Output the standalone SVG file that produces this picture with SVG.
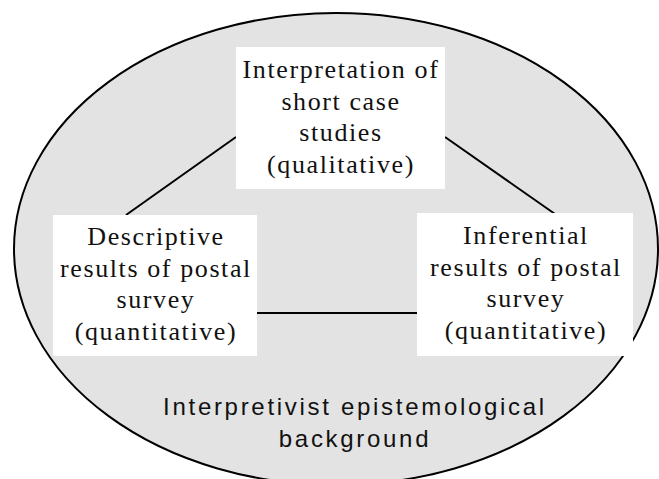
<svg xmlns="http://www.w3.org/2000/svg" width="659" height="479" viewBox="0 0 659 479">
  <style>
    .bg { fill: #e3e3e3; stroke: #000; stroke-width: 2; }
    .box { fill: #fff; stroke: none; }
    .lbl { font-family: "Liberation Serif", "Times New Roman", serif; font-size: 26px; letter-spacing: 1.6px; fill: #111; text-anchor: middle; }
    .cap { font-family: "Liberation Sans", Arial, sans-serif; font-size: 24px; letter-spacing: 2.7px; fill: #111; text-anchor: middle; }
    .edge { stroke: #000; stroke-width: 2; fill: none; }
  </style>

  <!-- background region -->
  <g id="background">
    <ellipse class="bg" cx="336" cy="249" rx="322" ry="236"/>
    <text class="cap" x="355" y="415">Interpretivist epistemological</text>
    <text class="cap" x="355" y="447">background</text>
  </g>

  <!-- connectors -->
  <g id="connectors">
    <line class="edge" x1="236" y1="137" x2="126" y2="215"/>
    <line class="edge" x1="445" y1="137" x2="555" y2="214"/>
    <line class="edge" x1="257" y1="313" x2="417" y2="313"/>
  </g>

  <!-- nodes -->
  <g id="case-studies">
    <rect class="box" x="236" y="47" width="209" height="142"/>
    <text class="lbl" x="341" y="78">Interpretation of</text>
    <text class="lbl" x="341" y="110">short case</text>
    <text class="lbl" x="341" y="141">studies</text>
    <text class="lbl" x="341" y="173">(qualitative)</text>
  </g>

  <g id="descriptive">
    <rect class="box" x="53" y="215" width="204" height="141"/>
    <text class="lbl" x="156" y="245">Descriptive</text>
    <text class="lbl" x="156" y="277">results of postal</text>
    <text class="lbl" x="156" y="308">survey</text>
    <text class="lbl" x="156" y="340">(quantitative)</text>
  </g>

  <g id="inferential">
    <rect class="box" x="417" y="213" width="216" height="143"/>
    <text class="lbl" x="526" y="244">Inferential</text>
    <text class="lbl" x="526" y="276">results of postal</text>
    <text class="lbl" x="526" y="307">survey</text>
    <text class="lbl" x="526" y="339">(quantitative)</text>
  </g>
</svg>
